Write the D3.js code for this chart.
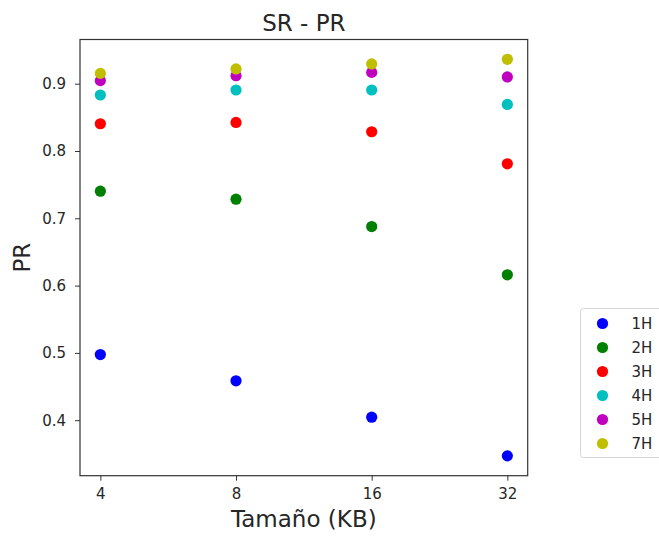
<!DOCTYPE html>
<html>
<head>
<meta charset="utf-8">
<script src="https://cdn.jsdelivr.net/npm/d3@7"></script>
<style>
  body { margin: 0; background: #fff; }
  text { font-family: "DejaVu Sans", sans-serif; fill: #262626; }
</style>
</head>
<body>
<svg id="chart" width="659" height="538"></svg>
<script>
// Tamaño (KB) categories and PR per series
const sizes = ["4", "8", "16", "32"];
const series = ["1H", "2H", "3H", "4H", "5H", "7H"];
const colors = ["#0000ff", "#008000", "#ff0000", "#00bfbf", "#bf00bf", "#bfbf00"];
const pr1H = [0.4975, 0.4585, 0.4045, 0.3470];
const pr2H = [0.7403, 0.7284, 0.6877, 0.6160];
const pr3H = [0.8405, 0.8424, 0.8286, 0.7810];
const pr4H = [0.8832, 0.8906, 0.8906, 0.8692];
const pr5H = [0.9045, 0.9119, 0.9168, 0.9100];
const pr7H = [0.9153, 0.9219, 0.9293, 0.9362];
const yTicks = [0.4, 0.5, 0.6, 0.7, 0.8, 0.9];

const values = [pr1H, pr2H, pr3H, pr4H, pr5H, pr7H];

const svg = d3.select("#chart");
const mLeft = 80, mRight = 527.7, mTop = 39.5, mBottom = 475.7;

// matplotlib style 5% margins
const allv = values.flat();
const vmin = d3.min(allv), vmax = d3.max(allv), pad = (vmax - vmin) * 0.05;
const y = d3.scaleLinear().domain([vmin - pad, vmax + pad]).range([mBottom, mTop]);
const xi = d3.scaleLinear().domain([-0.15, sizes.length - 1 + 0.15]).range([mLeft, mRight]);

// axes
const xAxis = d3.axisBottom(xi).tickValues(d3.range(sizes.length)).tickFormat(i => sizes[i]).tickSize(5).tickPadding(7.5);
const yAxis = d3.axisLeft(y).tickValues(yTicks).tickFormat(d3.format(".1f")).tickSize(5).tickPadding(9);

const gx = svg.append("g").attr("transform", `translate(0,${mBottom})`).call(xAxis);
const gy = svg.append("g").attr("transform", `translate(${mLeft},0)`).call(yAxis);
[gx, gy].forEach(g => {
  g.select(".domain").remove();
  g.selectAll("line").attr("stroke", "#333").attr("stroke-width", 1);
  g.selectAll("text").style("font-size", "15px").attr("fill", "#262626").style("font-family", "DejaVu Sans");
});

// frame
svg.append("rect")
  .attr("x", mLeft).attr("y", mTop)
  .attr("width", mRight - mLeft).attr("height", mBottom - mTop)
  .attr("fill", "none").attr("stroke", "#333").attr("stroke-width", 1.2);

// points
const pts = svg.append("g");
values.forEach((arr, s) => {
  pts.selectAll(null)
    .data(arr)
    .join("circle")
    .attr("cx", (d, i) => xi(i))
    .attr("cy", d => y(d))
    .attr("r", 5.6)
    .attr("fill", colors[s]);
});

// title & labels
svg.append("text").attr("x", (mLeft + mRight) / 2).attr("y", 31)
  .attr("text-anchor", "middle").style("font-size", "23px").text("SR - PR");
svg.append("text").attr("x", (mLeft + mRight) / 2).attr("y", 527)
  .attr("text-anchor", "middle").style("font-size", "23px").text("Tamaño (KB)");
svg.append("text").attr("transform", `translate(30,${(mTop + mBottom) / 2}) rotate(-90)`)
  .attr("text-anchor", "middle").style("font-size", "23px").text("PR");

// legend
const lg = svg.append("g").attr("transform", "translate(580.5,308.5)");
lg.append("rect").attr("width", 90).attr("height", 149).attr("rx", 3)
  .attr("fill", "#fff").attr("stroke", "#d5d5d5").attr("stroke-width", 1);
const items = lg.selectAll("g.item").data(series).join("g")
  .attr("class", "item")
  .attr("transform", (d, i) => `translate(0,${15 + i * 24})`);
items.append("circle").attr("cx", 22).attr("cy", 0).attr("r", 5.6).attr("fill", (d, i) => colors[i]);
items.append("text").attr("x", 51).attr("y", 5.5).style("font-size", "15px").text(d => d);
</script>
</body>
</html>
